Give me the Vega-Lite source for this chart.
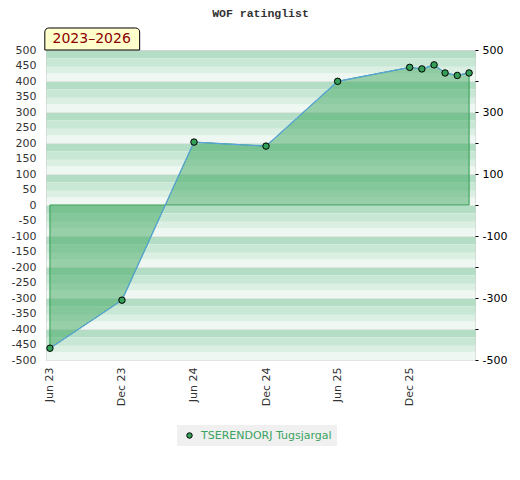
{
  "$schema": "https://vega.github.io/schema/vega-lite/v6.json",
  "width": 429,
  "height": 310,
  "autosize": {"type": "none"},
  "padding": {"left": 46, "top": 50, "right": 45, "bottom": 120},
  "background": "white",
  "title": {"text": "WOF ratinglist", "font": "Liberation Mono", "fontSize": 11.5, "fontWeight": "bold", "color": "#333333", "anchor": "middle", "offset": 8},
  "config": {
    "view": {"stroke": "#cccccc"},
    "axis": {"labelFont": "DejaVu Sans", "labelFontSize": 11, "labelColor": "#333333"},
    "legend": {
      "orient": "none",
      "legendX": 131,
      "legendY": 375,
      "fillColor": "#f0f0f0",
      "padding": 5,
      "symbolType": "circle",
      "symbolSize": 30,
      "symbolStrokeColor": "#000000",
      "symbolStrokeWidth": 1,
      "symbolOffset": 2,
      "labelOffset": 6,
      "labelColor": "#3aa35f",
      "labelFont": "DejaVu Sans",
      "labelFontSize": 11
    }
  },
  "data": {
    "values": [
      {"date": "2023-06-01", "rating": -462, "player": "TSERENDORJ Tugsjargal"},
      {"date": "2023-12-01", "rating": -307, "player": "TSERENDORJ Tugsjargal"},
      {"date": "2024-06-01", "rating": 203, "player": "TSERENDORJ Tugsjargal"},
      {"date": "2024-12-01", "rating": 190, "player": "TSERENDORJ Tugsjargal"},
      {"date": "2025-06-01", "rating": 399, "player": "TSERENDORJ Tugsjargal"},
      {"date": "2025-12-01", "rating": 444, "player": "TSERENDORJ Tugsjargal"},
      {"date": "2026-01-01", "rating": 439, "player": "TSERENDORJ Tugsjargal"},
      {"date": "2026-02-01", "rating": 452, "player": "TSERENDORJ Tugsjargal"},
      {"date": "2026-03-01", "rating": 426, "player": "TSERENDORJ Tugsjargal"},
      {"date": "2026-04-01", "rating": 418, "player": "TSERENDORJ Tugsjargal"},
      {"date": "2026-05-01", "rating": 426, "player": "TSERENDORJ Tugsjargal"}
    ]
  },
  "layer": [
    {
      "mark": {"type": "area", "fill": "#3fa862", "fillOpacity": 0.5, "stroke": "#2f9d52", "strokeWidth": 1},
      "encoding": {
        "x": {
          "field": "date", "type": "temporal",
          "scale": {"type": "utc", "domain": [{"year": 2023, "month": 5, "date": 22, "utc": true}, {"year": 2026, "month": 5, "date": 16, "utc": true}]},
          "axis": {
            "title": null,
            "values": [
              {"year": 2023, "month": 6, "date": 1, "utc": true},
              {"year": 2023, "month": 12, "date": 1, "utc": true},
              {"year": 2024, "month": 6, "date": 1, "utc": true},
              {"year": 2024, "month": 12, "date": 1, "utc": true},
              {"year": 2025, "month": 6, "date": 1, "utc": true},
              {"year": 2025, "month": 12, "date": 1, "utc": true}
            ],
            "labelExpr": "utcFormat(datum.value, '%b %y')",
            "labelAngle": -90,
            "labelPadding": 7,
            "ticks": false,
            "domain": false,
            "grid": false
          }
        },
        "y": {
          "field": "rating", "type": "quantitative",
          "scale": {"domain": [-500, 500], "nice": false, "zero": false},
          "axis": {
            "orient": "right",
            "title": null,
            "values": [487.5, 462.5, 437.5, 412.5, 387.5, 362.5, 337.5, 312.5, 287.5, 262.5, 237.5, 212.5, 187.5, 162.5, 137.5, 112.5, 87.5, 62.5, 37.5, 12.5, -12.5, -37.5, -62.5, -87.5, -112.5, -137.5, -162.5, -187.5, -212.5, -237.5, -262.5, -287.5, -312.5, -337.5, -362.5, -387.5, -412.5, -437.5, -462.5, -487.5, 500, 400, 300, 200, 100, 0, -100, -200, -300, -400, -500],
            "labelExpr": "abs(datum.value) % 200 == 100 ? ('' + datum.value) : ''",
            "labelOverlap": false,
            "labelPadding": 4,
            "labelColor": "#000000",
            "domain": false,
            "ticks": true,
            "tickSize": 3,
            "tickColor": "#000000",
            "tickOpacity": {"condition": {"test": "datum.value % 100 == 0", "value": 1}, "value": 0},
            "grid": true,
            "gridOpacity": 1,
            "gridWidth": {"condition": {"test": "datum.value % 100 == 0", "value": 1}, "value": 7.75},
            "gridColor": {
              "condition": [
                {"test": "datum.value % 100 == 0", "value": "#d2d2d2"},
                {"test": "(500 - datum.value) % 100 == 12.5", "value": "#b3dec5"},
                {"test": "(500 - datum.value) % 100 == 37.5", "value": "#c8e7d5"},
                {"test": "(500 - datum.value) % 100 == 62.5", "value": "#dcefe3"}
              ],
              "value": "#eef7f1"
            }
          }
        },
        "y2": {"datum": 0}
      }
    },
    {
      "mark": {"type": "line", "color": "#5aa4dc", "strokeWidth": 1.2},
      "encoding": {
        "x": {"field": "date", "type": "temporal"},
        "y": {
          "field": "rating", "type": "quantitative",
          "axis": {
            "orient": "left",
            "title": null,
            "values": [500, 450, 400, 350, 300, 250, 200, 150, 100, 50, 0, -50, -100, -150, -200, -250, -300, -350, -400, -450, -500],
            "labelExpr": "'' + datum.value",
            "labelOverlap": false,
            "labelPadding": 10,
            "ticks": false,
            "domain": false,
            "grid": false
          }
        }
      }
    },
    {
      "mark": {"type": "circle", "size": 42, "stroke": "#000000", "strokeWidth": 1, "opacity": 1},
      "encoding": {
        "x": {"field": "date", "type": "temporal"},
        "y": {"field": "rating", "type": "quantitative", "axis": null},
        "color": {"field": "player", "type": "nominal", "scale": {"range": ["#34a058"]}, "legend": {"title": null}}
      }
    },
    {
      "data": {"values": [{"label": "2023–2026"}]},
      "mark": {"type": "rect", "fill": "#ffffcc", "stroke": "#000000", "strokeWidth": 1, "clip": false, "cornerRadiusTopLeft": 4, "cornerRadiusTopRight": 4},
      "encoding": {
        "x": {"datum": {"year": 2023, "month": 5, "date": 19, "utc": true}, "type": "temporal"},
        "x2": {"datum": {"year": 2024, "month": 1, "date": 15, "utc": true}},
        "y": {"datum": 571, "type": "quantitative", "axis": null},
        "y2": {"datum": 500}
      }
    },
    {
      "data": {"values": [{"label": "2023–2026"}]},
      "mark": {"type": "text", "font": "DejaVu Sans", "fontSize": 14, "color": "#8b0000", "clip": false, "align": "center", "baseline": "middle"},
      "encoding": {
        "x": {"datum": {"year": 2023, "month": 9, "date": 15, "utc": true}, "type": "temporal"},
        "y": {"datum": 535, "type": "quantitative", "axis": null},
        "text": {"field": "label"}
      }
    }
  ],
  "resolve": {"axis": {"y": "independent"}}
}
